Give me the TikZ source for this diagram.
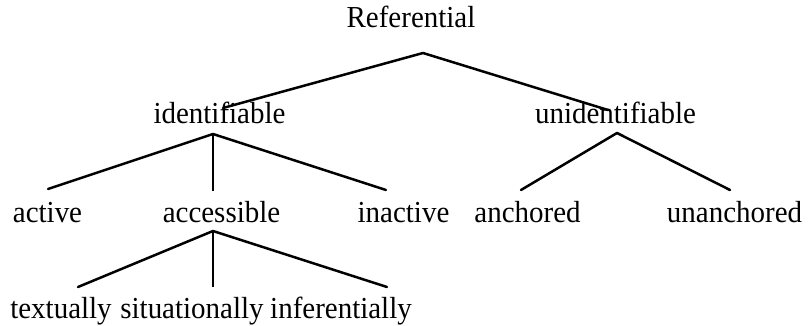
\documentclass[tikz,border=0pt]{standalone}
\usepackage{fontspec}
\setmainfont{Liberation Serif}
\begin{document}
\begin{tikzpicture}[x=1pt,y=-1pt,
  lbl/.style={inner sep=0pt,anchor=base,xscale=0.95,font=\fontsize{30.5}{33}\selectfont},
  branch/.style={line width=2.5pt,line cap=round,line join=round},
  stem/.style={line width=1.4pt}]
\useasboundingbox (0,0) rectangle (810,326);
% labels
\node[lbl] (ref) at (411,28) {Referential};
\node[lbl] (ide) at (219.5,123) {identifiable};
\node[lbl] (uni) at (615.5,123) {unidentifiable};
\node[lbl] (act) at (47.5,222) {active};
\node[lbl] (acc) at (221.5,222) {accessible};
\node[lbl] (ina) at (403.5,222) {inactive};
\node[lbl] (anc) at (527.5,222) {anchored};
\node[lbl] (una) at (734.5,222) {unanchored};
\node[lbl] (tex) at (61,318) {textually};
\node[lbl] (sit) at (192,318) {situationally};
\node[lbl] (inf) at (341,318) {inferentially};
% junction points
\coordinate (refT) at (423,53);
\coordinate (ideE) at (223,108);
\coordinate (uniE) at (608,110);
\coordinate (ideT) at (213,134);
\coordinate (actE) at (48,189);
\coordinate (accE) at (213,191);
\coordinate (inaE) at (386,190);
\coordinate (uniT) at (617,133);
\coordinate (ancE) at (521,190);
\coordinate (unaE) at (730,190);
\coordinate (accT) at (213,231);
\coordinate (texE) at (78,287);
\coordinate (sitE) at (213,287);
\coordinate (infE) at (387,287);
% connectors
\draw[branch] (ideE) -- (refT) -- (uniE);
\draw[branch] (actE) -- (ideT) -- (inaE);
\draw[stem] (ideT) -- (accE);
\draw[branch] (ancE) -- (uniT) -- (unaE);
\draw[branch] (texE) -- (accT) -- (infE);
\draw[stem] (accT) -- (sitE);
\end{tikzpicture}
\end{document}
